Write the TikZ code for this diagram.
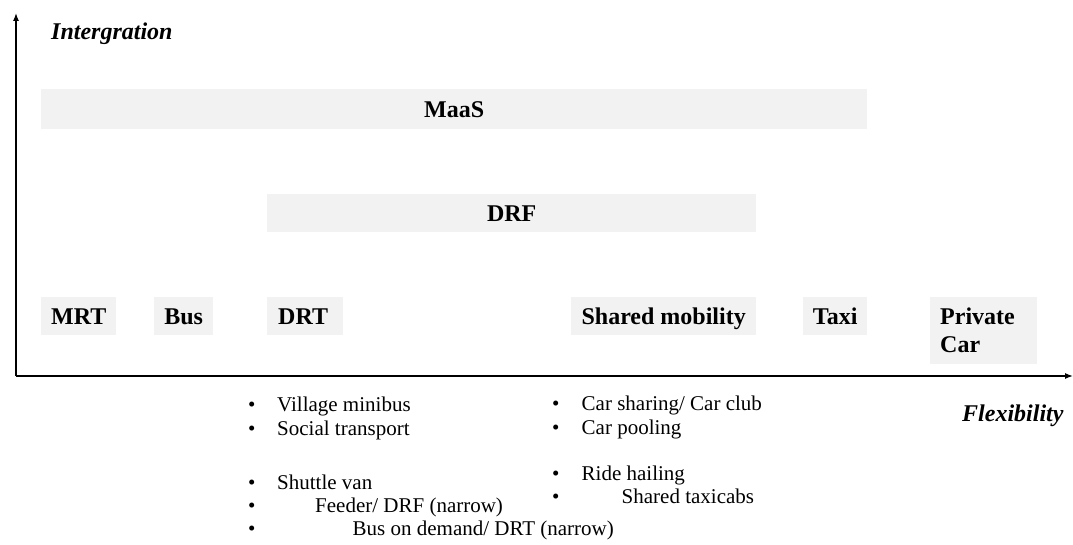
\documentclass[tikz,border=0pt]{standalone}
\usepackage{fontspec}
\setmainfont{Liberation Serif}
\usetikzlibrary{arrows.meta}
\definecolor{boxgray}{RGB}{242,242,242}
\newcommand{\labfont}{\fontsize{24}{28}\selectfont\bfseries}
\newcommand{\itemfont}{\fontsize{21}{23}\selectfont}
\begin{document}
\begin{tikzpicture}[x=1pt,y=-1pt,
  box/.style={fill=boxgray, inner sep=0pt, anchor=north west, font=\labfont, text height=16pt, text depth=0pt},
  rowbox/.style={box, minimum height=38pt},
  axis/.style={line width=1.3pt, -{Latex[length=8pt,width=6pt]}},
  axlabel/.style={font=\fontsize{24}{28}\selectfont\bfseries\itshape, anchor=base west, inner sep=0pt},
  item/.style={font=\itemfont, anchor=base west, inner sep=0pt},
]
\useasboundingbox (0,0) rectangle (1073,545);
% axes
\coordinate (O) at (16,376);
\coordinate (ytop) at (16,13);
\coordinate (xend) at (1073,376);
\draw[axis] (O) -- (ytop);
\draw[axis] (O) -- (xend);
\node[axlabel] (yl) at (51,39.5) {Intergration};
\node[axlabel] (xl) at (962,421) {Flexibility};
% bands
\node[box, minimum width=826pt, minimum height=40pt] (maas) at (41,89) {MaaS};
\node[box, minimum width=489pt, minimum height=38pt] (drf) at (267,194) {DRF};
% modes
\node[rowbox, minimum width=75pt] (mrt) at (41,297) {MRT};
\node[rowbox, minimum width=59pt] (bus) at (154,297) {Bus};
\node[rowbox, inner xsep=11pt, text width=54pt, align=left] (drt) at (267,297) {DRT};
\node[rowbox, minimum width=185pt] (shm) at (571,297) {Shared mobility};
\node[rowbox, minimum width=64pt] (taxi) at (803,297) {Taxi};
\node[fill=boxgray, inner sep=0pt, inner xsep=10pt, anchor=north west, font=\labfont, text width=87pt, align=left, minimum height=67pt] (car) at (930,297) {Private\\Car};
% left list
\node[item] (bl1) at (248,411.7) {•};
\node[item] (l1) at (277,411.7) {Village minibus};
\node[item] (bl2) at (248,435) {•};
\node[item] (l2) at (277,435) {Social transport};
\node[item] (bl3) at (248,489) {•};
\node[item] (l3) at (277,489) {Shuttle van};
\node[item] (bl4) at (248,512) {•};
\node[item] (l4) at (315,512) {Feeder/ DRF (narrow)};
\node[item] (bl5) at (248,535) {•};
\node[item] (l5) at (352.5,535) {Bus on demand/ DRT (narrow)};
% right list
\node[item] (br1) at (552,410) {•};
\node[item] (r1) at (581.5,410) {Car sharing/ Car club};
\node[item] (br2) at (552,434) {•};
\node[item] (r2) at (581.5,434) {Car pooling};
\node[item] (br3) at (552,480) {•};
\node[item] (r3) at (581.5,480) {Ride hailing};
\node[item] (br4) at (552,503) {•};
\node[item] (r4) at (621.5,503) {Shared taxicabs};
\end{tikzpicture}
\end{document}
